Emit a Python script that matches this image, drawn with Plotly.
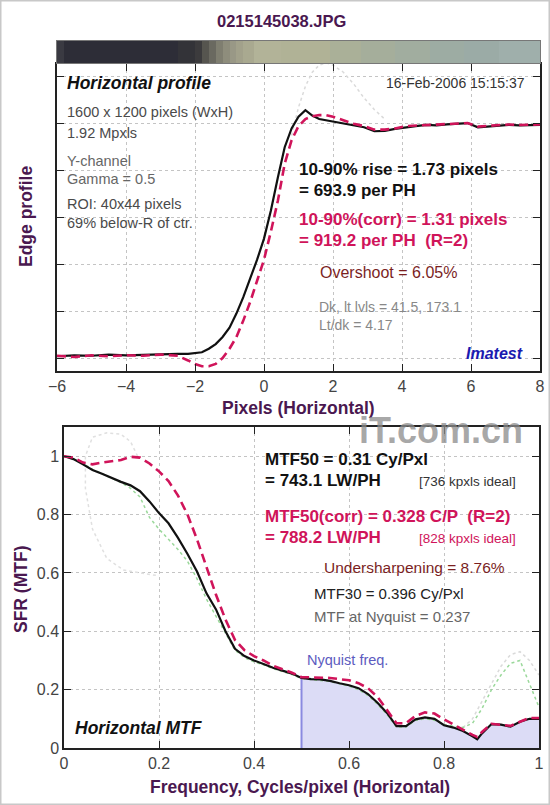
import plotly.graph_objects as go

W, H = 550, 805

# ---------------- data ----------------
title_text = "0215145038.JPG"

# Edge profile (top panel)
prof_x = [-6, -5.5, -5, -4.5, -4, -3.5, -3, -2.5, -2.2, -2.0, -1.8, -1.6, -1.4, -1.2, -1.0,
          -0.8, -0.6, -0.4, -0.2, 0, 0.2, 0.4, 0.6, 0.8, 1.0, 1.2, 1.4, 1.6, 1.8, 2.0,
          2.3, 2.6, 2.9, 3.2, 3.5, 3.8, 4.1, 4.4, 4.7, 5.0, 5.3, 5.6, 5.9, 6.2, 6.5,
          6.8, 7.1, 7.4, 7.7, 8.0]
prof_black = [0.008, 0.012, 0.010, 0.015, 0.012, 0.015, 0.018, 0.018, 0.018, 0.020, 0.025,
              0.040, 0.060, 0.090, 0.130, 0.190, 0.260, 0.340, 0.420, 0.510, 0.630, 0.770,
              0.900, 0.980, 1.030, 1.058, 1.035, 1.020, 1.015, 1.010, 1.000, 0.995, 0.985,
              0.968, 0.970, 0.978, 0.985, 0.990, 0.995, 0.993, 0.997, 1.000, 1.003, 0.985,
              0.988, 0.993, 0.995, 0.993, 0.995, 0.995]
prof_red = [0.010, 0.005, 0.012, 0.008, 0.012, 0.010, 0.015, 0.010, -0.010, -0.025, -0.035,
            -0.035, -0.025, 0.000, 0.040, 0.090, 0.160, 0.240, 0.330, 0.420, 0.540, 0.670,
            0.830, 0.930, 0.990, 1.020, 1.032, 1.037, 1.037, 1.030, 1.015, 1.000, 0.990,
            0.975, 0.975, 0.980, 0.990, 0.992, 0.995, 0.995, 0.998, 1.000, 1.003, 0.988,
            0.990, 0.995, 0.997, 0.995, 0.997, 0.997]
prof_faint_x = [0.8, 1.0, 1.2, 1.4, 1.6, 1.8, 2.0, 2.3, 2.6, 2.9, 3.2, 3.5]
prof_faint_y = [0.95, 1.07, 1.16, 1.22, 1.25, 1.26, 1.25, 1.22, 1.17, 1.11, 1.06, 1.02]

profile_xticks = [-6, -4, -2, 0, 2, 4, 6, 8]
profile_yticks = [0, 0.2, 0.4, 0.6, 0.8, 1.0, 1.2]

# Edge image strip above the profile
bar_edges = [-6, -5.8, -2.5, -2.0, -1.8, -1.6, -1.4, -1.2, -1.0, -0.8, -0.6, -0.3, 0.5,
             1.9, 2.8, 3.8, 4.8, 5.8, 6.8, 8]
bar_colors = ["#3a3a42", "#2d2d37", "#333338", "#3c3b3d", "#56554f", "#6a6960", "#7f7e70",
              "#8e8d7c", "#999886", "#a2a18b", "#a9a990", "#b2b398", "#b0b296", "#aab098",
              "#a5ae9b", "#a1ad9f", "#9daca3", "#9baba6", "#9fafab"]

# MTF (bottom panel)
mtf_f = [0, 0.02, 0.04, 0.06, 0.08, 0.10, 0.12, 0.14, 0.16, 0.18, 0.20, 0.22, 0.24, 0.26,
         0.28, 0.30, 0.32, 0.34, 0.36, 0.38, 0.40, 0.42, 0.44, 0.46, 0.48, 0.50, 0.52, 0.54,
         0.56, 0.58, 0.60, 0.62, 0.64, 0.66, 0.68, 0.70, 0.72, 0.74, 0.76, 0.78, 0.80, 0.82,
         0.84, 0.86, 0.87, 0.88, 0.90, 0.92, 0.94, 0.96, 0.98, 1.0]
mtf_black = [1.0, 0.99, 0.972, 0.953, 0.94, 0.925, 0.912, 0.90, 0.88, 0.845, 0.805, 0.77,
             0.72, 0.665, 0.605, 0.53, 0.475, 0.40, 0.34, 0.315, 0.30, 0.288, 0.275, 0.265,
             0.255, 0.240, 0.236, 0.235, 0.23, 0.222, 0.215, 0.205, 0.185, 0.155, 0.12,
             0.075, 0.075, 0.098, 0.105, 0.10, 0.078, 0.07, 0.058, 0.04, 0.03, 0.05, 0.082,
             0.08, 0.073, 0.09, 0.10, 0.10]
mtf_red = [1.0, 0.995, 0.978, 0.972, 0.978, 0.982, 0.987, 0.998, 0.995, 0.975, 0.948, 0.915,
           0.865, 0.80, 0.715, 0.62, 0.525, 0.44, 0.37, 0.335, 0.315, 0.30, 0.282, 0.27,
           0.258, 0.243, 0.242, 0.242, 0.24, 0.236, 0.232, 0.222, 0.205, 0.175, 0.13, 0.085,
           0.085, 0.11, 0.122, 0.118, 0.098, 0.08, 0.062, 0.045, 0.038, 0.055, 0.083, 0.08,
           0.076, 0.09, 0.103, 0.103]
mtf_green = [1.0, 0.99, 0.975, 0.955, 0.94, 0.925, 0.91, 0.89, 0.86, 0.79, 0.75, 0.715, 0.68,
             0.64, 0.58, 0.51, 0.45, 0.39, 0.335, 0.31, 0.295, 0.285, 0.272, 0.262, 0.252,
             0.238, 0.234, 0.232, 0.228, 0.22, 0.212, 0.20, 0.18, 0.15, 0.115, 0.072, 0.072,
             0.095, 0.10, 0.095, 0.08, 0.075, 0.07, 0.085, 0.11, 0.135, 0.20, 0.25, 0.29,
             0.30, 0.22, 0.14]
mtf_faint_f = [0.155, 0.14, 0.12, 0.09, 0.06, 0.045, 0.045, 0.06, 0.09, 0.125, 0.16, 0.20]
mtf_faint_y = [1.0, 1.05, 1.075, 1.08, 1.065, 1.0, 0.89, 0.75, 0.65, 0.61, 0.60, 0.59]
mtf_faint2_f = [0.84, 0.86, 0.88, 0.90, 0.92, 0.94, 0.96, 0.98, 1.0]
mtf_faint2_y = [0.07, 0.10, 0.16, 0.22, 0.28, 0.32, 0.33, 0.30, 0.25]
nyquist_f = 0.5

mtf_ticks = [0, 0.2, 0.4, 0.6, 0.8, 1.0]
mtf_tick_labels = ["0", "0.2", "0.4", "0.6", "0.8", "1"]

# ---------------- styles ----------------
BLACK = "#111111"
RED = "#d0145a"
PURPLE = "#4a1850"
DARKRED = "#7b1f1f"
GRID = "#c4c4c4"
FONT = "Liberation Sans"


def px(x):
    return x / W


def py(y):
    return 1 - y / H


fig = go.Figure()

# gradient strip
n = len(bar_colors)
cs = [[i / (n - 1), c] for i, c in enumerate(bar_colors)]
fig.add_trace(go.Heatmap(x=bar_edges, y=[0, 1], z=[list(range(n))], colorscale=cs,
                         zmin=0, zmax=n - 1, showscale=False, hoverinfo="skip",
                         xaxis="x3", yaxis="y3"))

# top panel
fig.add_trace(go.Scatter(x=prof_faint_x, y=prof_faint_y, mode="lines",
                         line=dict(color="#dadada", width=1.5, dash="dot"),
                         xaxis="x", yaxis="y", hoverinfo="skip"))
fig.add_trace(go.Scatter(x=prof_x, y=prof_black, mode="lines",
                         line=dict(color=BLACK, width=2.2), xaxis="x", yaxis="y"))
fig.add_trace(go.Scatter(x=prof_x, y=prof_red, mode="lines",
                         line=dict(color=RED, width=2.6, dash="9px,5px"), xaxis="x", yaxis="y"))

# bottom panel
fill_f = [f for f in mtf_f if f >= nyquist_f]
fill_y = [v for f, v in zip(mtf_f, mtf_black) if f >= nyquist_f]
fig.add_trace(go.Scatter(x=fill_f, y=fill_y, mode="lines", fill="tozeroy",
                         fillcolor="#dcdcf6", line=dict(width=0, color="#dcdcf6"),
                         xaxis="x2", yaxis="y2", hoverinfo="skip"))
fig.add_trace(go.Scatter(x=[nyquist_f, nyquist_f], y=[0, fill_y[0]], mode="lines",
                         line=dict(color="#8a8ae0", width=2), xaxis="x2", yaxis="y2"))
fig.add_trace(go.Scatter(x=mtf_faint_f, y=mtf_faint_y, mode="lines",
                         line=dict(color="#e0e0e0", width=1.5, dash="dot"),
                         xaxis="x2", yaxis="y2", hoverinfo="skip"))
fig.add_trace(go.Scatter(x=mtf_faint2_f, y=mtf_faint2_y, mode="lines",
                         line=dict(color="#dadada", width=1.5, dash="dot"),
                         xaxis="x2", yaxis="y2", hoverinfo="skip"))
fig.add_trace(go.Scatter(x=mtf_f, y=mtf_green, mode="lines",
                         line=dict(color="#9ad89a", width=1.5, dash="dot"),
                         xaxis="x2", yaxis="y2", hoverinfo="skip"))
fig.add_trace(go.Scatter(x=mtf_f, y=mtf_black, mode="lines",
                         line=dict(color=BLACK, width=2.2), xaxis="x2", yaxis="y2"))
fig.add_trace(go.Scatter(x=mtf_f, y=mtf_red, mode="lines",
                         line=dict(color=RED, width=2.6, dash="9px,5px"), xaxis="x2", yaxis="y2"))

tickfont = dict(family=FONT, size=16, color="#444444")
axis_common = dict(showline=True, linecolor="#222222", linewidth=1.5, mirror="ticks",
                   ticks="inside", ticklen=7, tickcolor="#222222", tickwidth=1.2,
                   showgrid=True, gridcolor=GRID, griddash="dot", gridwidth=1,
                   zeroline=False, automargin=False, tickfont=tickfont, fixedrange=True)

top_y0, top_y1 = 64, 371
bot_y0, bot_y1 = 427, 748

fig.update_layout(
    width=W, height=H, margin=dict(l=0, r=0, t=0, b=0),
    paper_bgcolor="white", plot_bgcolor="white", showlegend=False,
    xaxis=dict(domain=[px(57), px(540)], range=[-6, 8], tickvals=profile_xticks,
               anchor="y", **axis_common),
    yaxis=dict(domain=[py(top_y1), py(top_y0)], range=[-0.055, 1.255],
               tickvals=profile_yticks, showticklabels=False, anchor="x", **axis_common),
    xaxis2=dict(domain=[px(64), px(539)], range=[0, 1], tickvals=mtf_ticks,
                ticktext=mtf_tick_labels, anchor="y2", **axis_common),
    yaxis2=dict(domain=[py(bot_y1), py(bot_y0)], range=[0, 1.1], tickvals=mtf_ticks,
                ticktext=mtf_tick_labels, anchor="x2", **axis_common),
    xaxis3=dict(domain=[px(57), px(540)], range=[-6, 8], showticklabels=False,
                showgrid=False, zeroline=False, ticks="", anchor="y3", showline=True,
                linecolor="#777777", linewidth=1, mirror=True, fixedrange=True),
    yaxis3=dict(domain=[py(63), py(41)], range=[0, 1], showticklabels=False,
                showgrid=False, zeroline=False, ticks="", anchor="x3", showline=True,
                linecolor="#777777", linewidth=1, mirror=True, fixedrange=True),
)

annotations = []


def txt(text, x, y, size, color, xanchor="left", bold=False, italic=False, angle=0,
        family=FONT):
    t = text
    if bold:
        t = "<b>" + t + "</b>"
    if italic:
        t = "<i>" + t + "</i>"
    annotations.append(dict(text=t, x=px(x), y=py(y), xref="paper", yref="paper",
                            xanchor=xanchor, yanchor="middle", showarrow=False,
                            textangle=angle,
                            font=dict(family=family, size=size, color=color)))


# title and axis titles
txt(title_text, 281, 21, 16.5, PURPLE, "center", bold=True)
txt("Edge profile", 26, 217, 17.5, PURPLE, "center", bold=True, angle=-90)
txt("Pixels (Horizontal)", 298, 408, 17.5, PURPLE, "center", bold=True)
txt("SFR (MTF)", 21, 590, 17.5, PURPLE, "center", bold=True, angle=-90)
txt("Frequency, Cycles/pixel (Horizontal)", 300, 787, 17.5, PURPLE, "center", bold=True)

# top panel texts
txt("Horizontal profile", 65, 83, 17.5, "#111111", bold=True, italic=True)
txt("16-Feb-2006 15:15:37", 527, 83, 14, "#333333", "right")
GR = "#4a4a4a"
txt("1600 x 1200 pixels (WxH)", 65, 112, 14.5, GR)
txt("1.92 Mpxls", 65, 133, 14.5, GR)
txt("Y-channel", 65, 161, 14.5, "#666666")
txt("Gamma = 0.5", 65, 179, 14.5, "#666666")
txt("ROI: 40x44 pixels", 65, 204, 14.5, GR)
txt("69% below-R of ctr.", 65, 223, 14.5, GR)
txt("10-90% rise = 1.73 pixels", 297, 169, 17, "#111111", bold=True)
txt("= 693.9 per PH", 297, 190, 17, "#111111", bold=True)
txt("10-90%(corr) = 1.31 pixels", 297, 219, 17, RED, bold=True)
txt("= 919.2 per PH  (R=2)", 297, 241, 17, RED, bold=True)
txt("Overshoot = 6.05%", 318, 272, 16, DARKRED)
txt("Dk, lt lvls = 41.5, 173.1", 317, 307, 14, "#888888")
txt("Lt/dk = 4.17", 317, 325, 14, "#888888")
txt("Imatest", 525, 353, 16, "#1a1ab0", "right", bold=True, italic=True)

# bottom panel texts
txt("MTF50 = 0.31 Cy/Pxl", 263, 459, 17, "#111111", bold=True)
txt("= 743.1 LW/PH", 263, 480, 17, "#111111", bold=True)
txt("[736 kpxls ideal]", 518, 481, 13.5, "#333333", "right")
txt("MTF50(corr) = 0.328 C/P  (R=2)", 263, 516, 17, RED, bold=True)
txt("= 788.2 LW/PH", 263, 537, 17, RED, bold=True)
txt("[828 kpxls ideal]", 518, 538, 13.5, RED, "right")
txt("Undersharpening = 8.76%", 322, 567, 15.5, DARKRED)
txt("MTF30 = 0.396 Cy/Pxl", 312, 593, 15, "#222222")
txt("MTF at Nyquist = 0.237", 312, 616, 15, "#666666")
txt("Nyquist freq.", 305, 660, 14.5, "#5c5cc0")
txt("Horizontal MTF", 73, 728, 17.5, "#111111", bold=True, italic=True)

# watermark
txt("iT.com.cn", 441, 430, 36, "rgba(140,140,140,0.75)", "center", bold=True)

fig.update_layout(annotations=annotations)

# outer frame of the picture
fig.add_shape(type="rect", xref="paper", yref="paper", x0=0, y0=0, x1=1, y1=1,
              line=dict(color="#c8c8c8", width=3), fillcolor="rgba(0,0,0,0)", layer="above")

# remove the default 8px page margin so the 550x805 figure fills the window exactly
fig.write_html("out.html", config={"displayModeBar": False},
               post_script="document.body.style.margin='0';document.body.style.overflow='hidden';")
